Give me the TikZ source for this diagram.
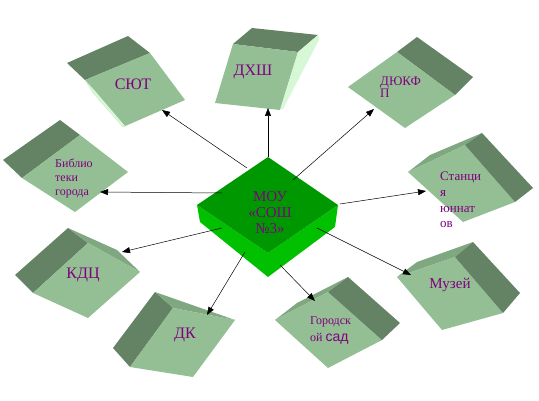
\documentclass[tikz,border=0pt]{standalone}
\usepackage{fontspec}
\setmainfont{Liberation Serif}
\newfontfamily\arialfont{Liberation Sans}
\usetikzlibrary{arrows.meta}
\definecolor{frontc}{RGB}{148,190,148}
\definecolor{darkc}{RGB}{100,130,100}
\definecolor{stripc}{RGB}{128,168,128}
\definecolor{palec}{RGB}{215,248,215}
\definecolor{gtop}{RGB}{0,152,0}
\definecolor{gside}{RGB}{0,192,0}
\definecolor{labc}{RGB}{128,0,128}
\tikzset{
  lab/.style={text=labc, inner sep=0pt},
  conn/.style={draw=black, line width=0.5pt, -{Triangle[length=8pt,width=6pt]}}
}
\begin{document}
\begin{tikzpicture}[x=1pt,y=-1pt]
\useasboundingbox (0,0) rectangle (539,401);
% СЮТ
\fill[darkc] (67,63) -- (128,36) -- (150,53) -- (85,80) -- cycle;
\fill[frontc] (85,80) -- (150,53) -- (185,100) -- (123,127) -- (93,93) -- cycle;
\fill[palec] (85,80) -- (93,93) -- (123,127) -- (125,126) -- (95,91) -- cycle;
% ДХШ
\fill[darkc] (233,44) -- (252,28) -- (318,35) -- (298,52) -- cycle;
\fill[frontc] (233,44) -- (298,52) -- (280,110) -- (215,103) -- cycle;
\fill[palec] (298,52) -- (318,35) -- (319,40) -- (283,109) -- (280,110) -- cycle;
% ДЮКФП
\fill[darkc] (397,52) -- (417,37) -- (473,77) -- (455,95) -- cycle;
\fill[frontc] (348,87) -- (397,52) -- (455,95) -- (405,128) -- cycle;
% Библиотеки
\fill[darkc] (3,160) -- (60,120) -- (80,135) -- (22,178) -- cycle;
\fill[frontc] (22,178) -- (80,135) -- (128,172) -- (75,212) -- cycle;
% Станция
\fill[stripc] (408,172) -- (430,155) -- (482,133) -- (465,145) -- cycle;
\fill[frontc] (408,172) -- (465,145) -- (515,202) -- (463,222) -- cycle;
\fill[darkc] (465,145) -- (482,133) -- (533,188) -- (515,202) -- cycle;
% КДЦ
\fill[darkc] (15,275) -- (68,228) -- (88,243) -- (33,293) -- cycle;
\fill[stripc] (68,228) -- (117,250) -- (140,272) -- (88,243) -- cycle;
\fill[frontc] (33,293) -- (88,243) -- (140,272) -- (88,318) -- cycle;
% ДК
\fill[darkc] (113,348) -- (155,292) -- (173,308) -- (130,367) -- cycle;
\fill[stripc] (155,292) -- (235,320) -- (173,308) -- cycle;
\fill[frontc] (130,367) -- (173,308) -- (235,320) -- (193,377) -- cycle;
% Городской сад
\fill[stripc] (275,320) -- (297,303) -- (348,277) -- (328,292) -- cycle;
\fill[frontc] (275,320) -- (328,292) -- (382,340) -- (328,368) -- cycle;
\fill[darkc] (328,292) -- (348,277) -- (400,323) -- (382,340) -- cycle;
% Музей
\fill[stripc] (397,277) -- (417,262) -- (473,242) -- (455,257) -- cycle;
\fill[frontc] (397,277) -- (455,257) -- (503,313) -- (442,330) -- cycle;
\fill[darkc] (455,257) -- (473,242) -- (520,293) -- (503,313) -- cycle;
% central box
\fill[gside] (197,205) -- (268,253) -- (268,277) -- (200,222) -- cycle;
\fill[gside] (268,253) -- (338,205) -- (335,227) -- (268,277) -- cycle;
\fill[gtop] (197,205) -- (268,157) -- (338,205) -- (268,253) -- cycle;

% labels
\node[lab, font=\fontsize{16}{18}\selectfont] (syut) at (133,84) {СЮТ};
\node[lab, font=\fontsize{16}{18}\selectfont] (dhsh) at (253,72) {ДХШ};
\node[lab, font=\fontsize{13}{12}\selectfont, align=left, anchor=north west] (dyukfp) at (380,77) {ДЮКФ\\П};
\node[lab, font=\fontsize{12}{14}\selectfont, align=left, anchor=north west] (bibl) at (55,159) {Библио\\теки\\города};
\node[lab, font=\fontsize{13}{15.7}\selectfont, align=left, anchor=north west] (stan) at (440,172) {Станци\\я\\юннат\\ов};
\node[lab, font=\fontsize{16}{18}\selectfont] (kdc) at (83,275) {КДЦ};
\node[lab, font=\fontsize{16}{18}\selectfont] (dk) at (185,335) {ДК};
\node[lab, font=\fontsize{12}{17}\selectfont, align=left, anchor=north west] (sad) at (310,316) {Городск\\ой {\arialfont\fontsize{14}{17}\selectfont сад}};
\node[lab, font=\fontsize{15}{18}\selectfont] (muz) at (450,285) {Музей};
\node[lab, font=\fontsize{15}{16}\selectfont, align=center] (mou) at (270,213) {МОУ\\«СОШ\\№3»};

% connectors
\coordinate (s1) at (247,168); \coordinate (e1) at (162,110);
\coordinate (s2) at (268,157); \coordinate (e2) at (268,108);
\coordinate (s3) at (293,180); \coordinate (e3) at (374,109);
\coordinate (s4) at (222,193); \coordinate (e4) at (100,192);
\coordinate (s5) at (340,204); \coordinate (e5) at (426,191);
\coordinate (s6) at (222,228); \coordinate (e6) at (122,252);
\coordinate (s7) at (245,252); \coordinate (e7) at (207,315);
\coordinate (s8) at (280,265); \coordinate (e8) at (315,301);
\coordinate (s9) at (317,228); \coordinate (e9) at (411,275);
\foreach \i in {1,...,9} { \draw[conn] (s\i) -- (e\i); }
\end{tikzpicture}
\end{document}
